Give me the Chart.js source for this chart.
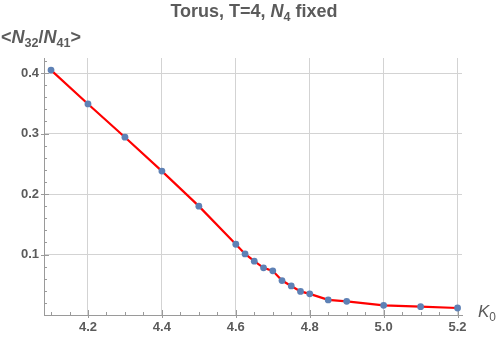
<!DOCTYPE html>
<html>
<head>
<meta charset="utf-8">
<script src="https://cdn.jsdelivr.net/npm/chart.js@4"></script>
<style>
  body { margin: 0; background: #fff; }
  #wrap { position: relative; width: 500px; height: 339px; }
  #title {
    position: absolute; left: 0; width: 508px; top: 1px; text-align: center;
    font: bold 18px "Liberation Sans", Arial, sans-serif; color: #5b5b5b;
  }
  #ylabel {
    position: absolute; left: 1px; top: 27px;
    font: bold 18px "Liberation Sans", Arial, sans-serif; color: #5b5b5b;
  }
  #xlabel {
    position: absolute; left: 478px; top: 302px;
    font: 17px "Liberation Sans", Arial, sans-serif; color: #5b5b5b;
  }
  sub { font-size: 70%; vertical-align: -0.3em; line-height: 0; }
</style>
</head>
<body>
<div id="wrap">
  <canvas id="myChart" width="500" height="339"></canvas>
  <div id="title">Torus, T=4, <i>N</i><sub>4</sub> fixed</div>
  <div id="ylabel">&lt;<i>N</i><sub>32</sub>/<i>N</i><sub>41</sub>&gt;</div>
  <div id="xlabel"><i>K</i><sub>0</sub></div>
</div>
<script>
// --- Data ---
const kValues = [4.1, 4.2, 4.3, 4.4, 4.5, 4.6, 4.625, 4.65, 4.675, 4.7, 4.725, 4.75, 4.775, 4.8, 4.85, 4.9, 5.0, 5.1, 5.2];
const ratioValues = [0.405, 0.349, 0.294, 0.238, 0.180, 0.117, 0.101, 0.089, 0.078, 0.073, 0.057, 0.048, 0.039, 0.035, 0.025, 0.0226, 0.016, 0.0137, 0.0116];
const xTickLabels = [4.2, 4.4, 4.6, 4.8, 5.0, 5.2];
const yTickLabels = [0.1, 0.2, 0.3, 0.4];

const gray = "#5b5b5b";
const gridColor = "#d3d3d3";
const axisColor = "#9a9a9a";

// --- Mathematica style tick marks (inside the plot) ---
const tickMarks = {
  id: "tickMarks",
  beforeDatasetsDraw(chart) {
    const { ctx, scales: { x, y } } = chart;
    ctx.save();
    ctx.strokeStyle = axisColor;
    ctx.lineWidth = 1;
    ctx.beginPath();
    // x ticks every 0.05
    for (let i = 82; i <= 104; i++) {
      const px = Math.round(x.getPixelForValue(i / 20)) + 0.5;
      const major = i % 4 === 0;
      const y0 = y.bottom;
      ctx.moveTo(px, y0 + (major ? 3 : 0));
      ctx.lineTo(px, y0 - (major ? 5 : 3));
    }
    // y ticks every 0.02
    for (let j = 1; j <= 21; j++) {
      const py = Math.round(y.getPixelForValue(j / 50)) + 0.5;
      const major = j % 5 === 0;
      const x0 = x.left;
      ctx.moveTo(x0 - (major ? 3 : 0), py);
      ctx.lineTo(x0 + (major ? 5 : 3), py);
    }
    ctx.stroke();
    ctx.restore();
  }
};

const ctx = document.getElementById("myChart");
const chart = new Chart(ctx, {
  type: "scatter",
  data: {
    datasets: [{
      data: kValues.map((k, i) => ({ x: k, y: ratioValues[i] })),
      showLine: true,
      borderColor: "#ff0000",
      borderWidth: 2.2,
      tension: 0,
      pointRadius: 3.4,
      pointBackgroundColor: "#5e81b5",
      pointBorderWidth: 0,
      pointHoverRadius: 3.4
    }]
  },
  options: {
    responsive: false,
    animation: false,
    devicePixelRatio: 1,
    layout: { padding: { left: 0, right: 38, top: 58, bottom: 0 } },
    plugins: { legend: { display: false }, tooltip: { enabled: false } },
    scales: {
      x: {
        type: "linear",
        min: 4.081,
        max: 5.212,
        afterBuildTicks: s => { s.ticks = xTickLabels.map(v => ({ value: v })); },
        afterFit: s => { s.height = 24; },
        grid: { color: gridColor, drawTicks: false },
        border: { color: axisColor },
        ticks: {
          padding: 5,
          color: gray,
          font: { family: "Liberation Sans", size: 13, weight: "bold" },
          callback: v => v.toFixed(1)
        }
      },
      y: {
        type: "linear",
        min: 0,
        max: 0.425,
        afterBuildTicks: s => { s.ticks = yTickLabels.map(v => ({ value: v })); },
        afterFit: s => { s.width = 44; },
        grid: { color: gridColor, drawTicks: false },
        border: { color: axisColor },
        ticks: {
          padding: 5,
          color: gray,
          font: { family: "Liberation Sans", size: 13, weight: "bold" },
          callback: v => v.toFixed(1)
        }
      }
    }
  },
  plugins: [tickMarks]
});
</script>
</body>
</html>
